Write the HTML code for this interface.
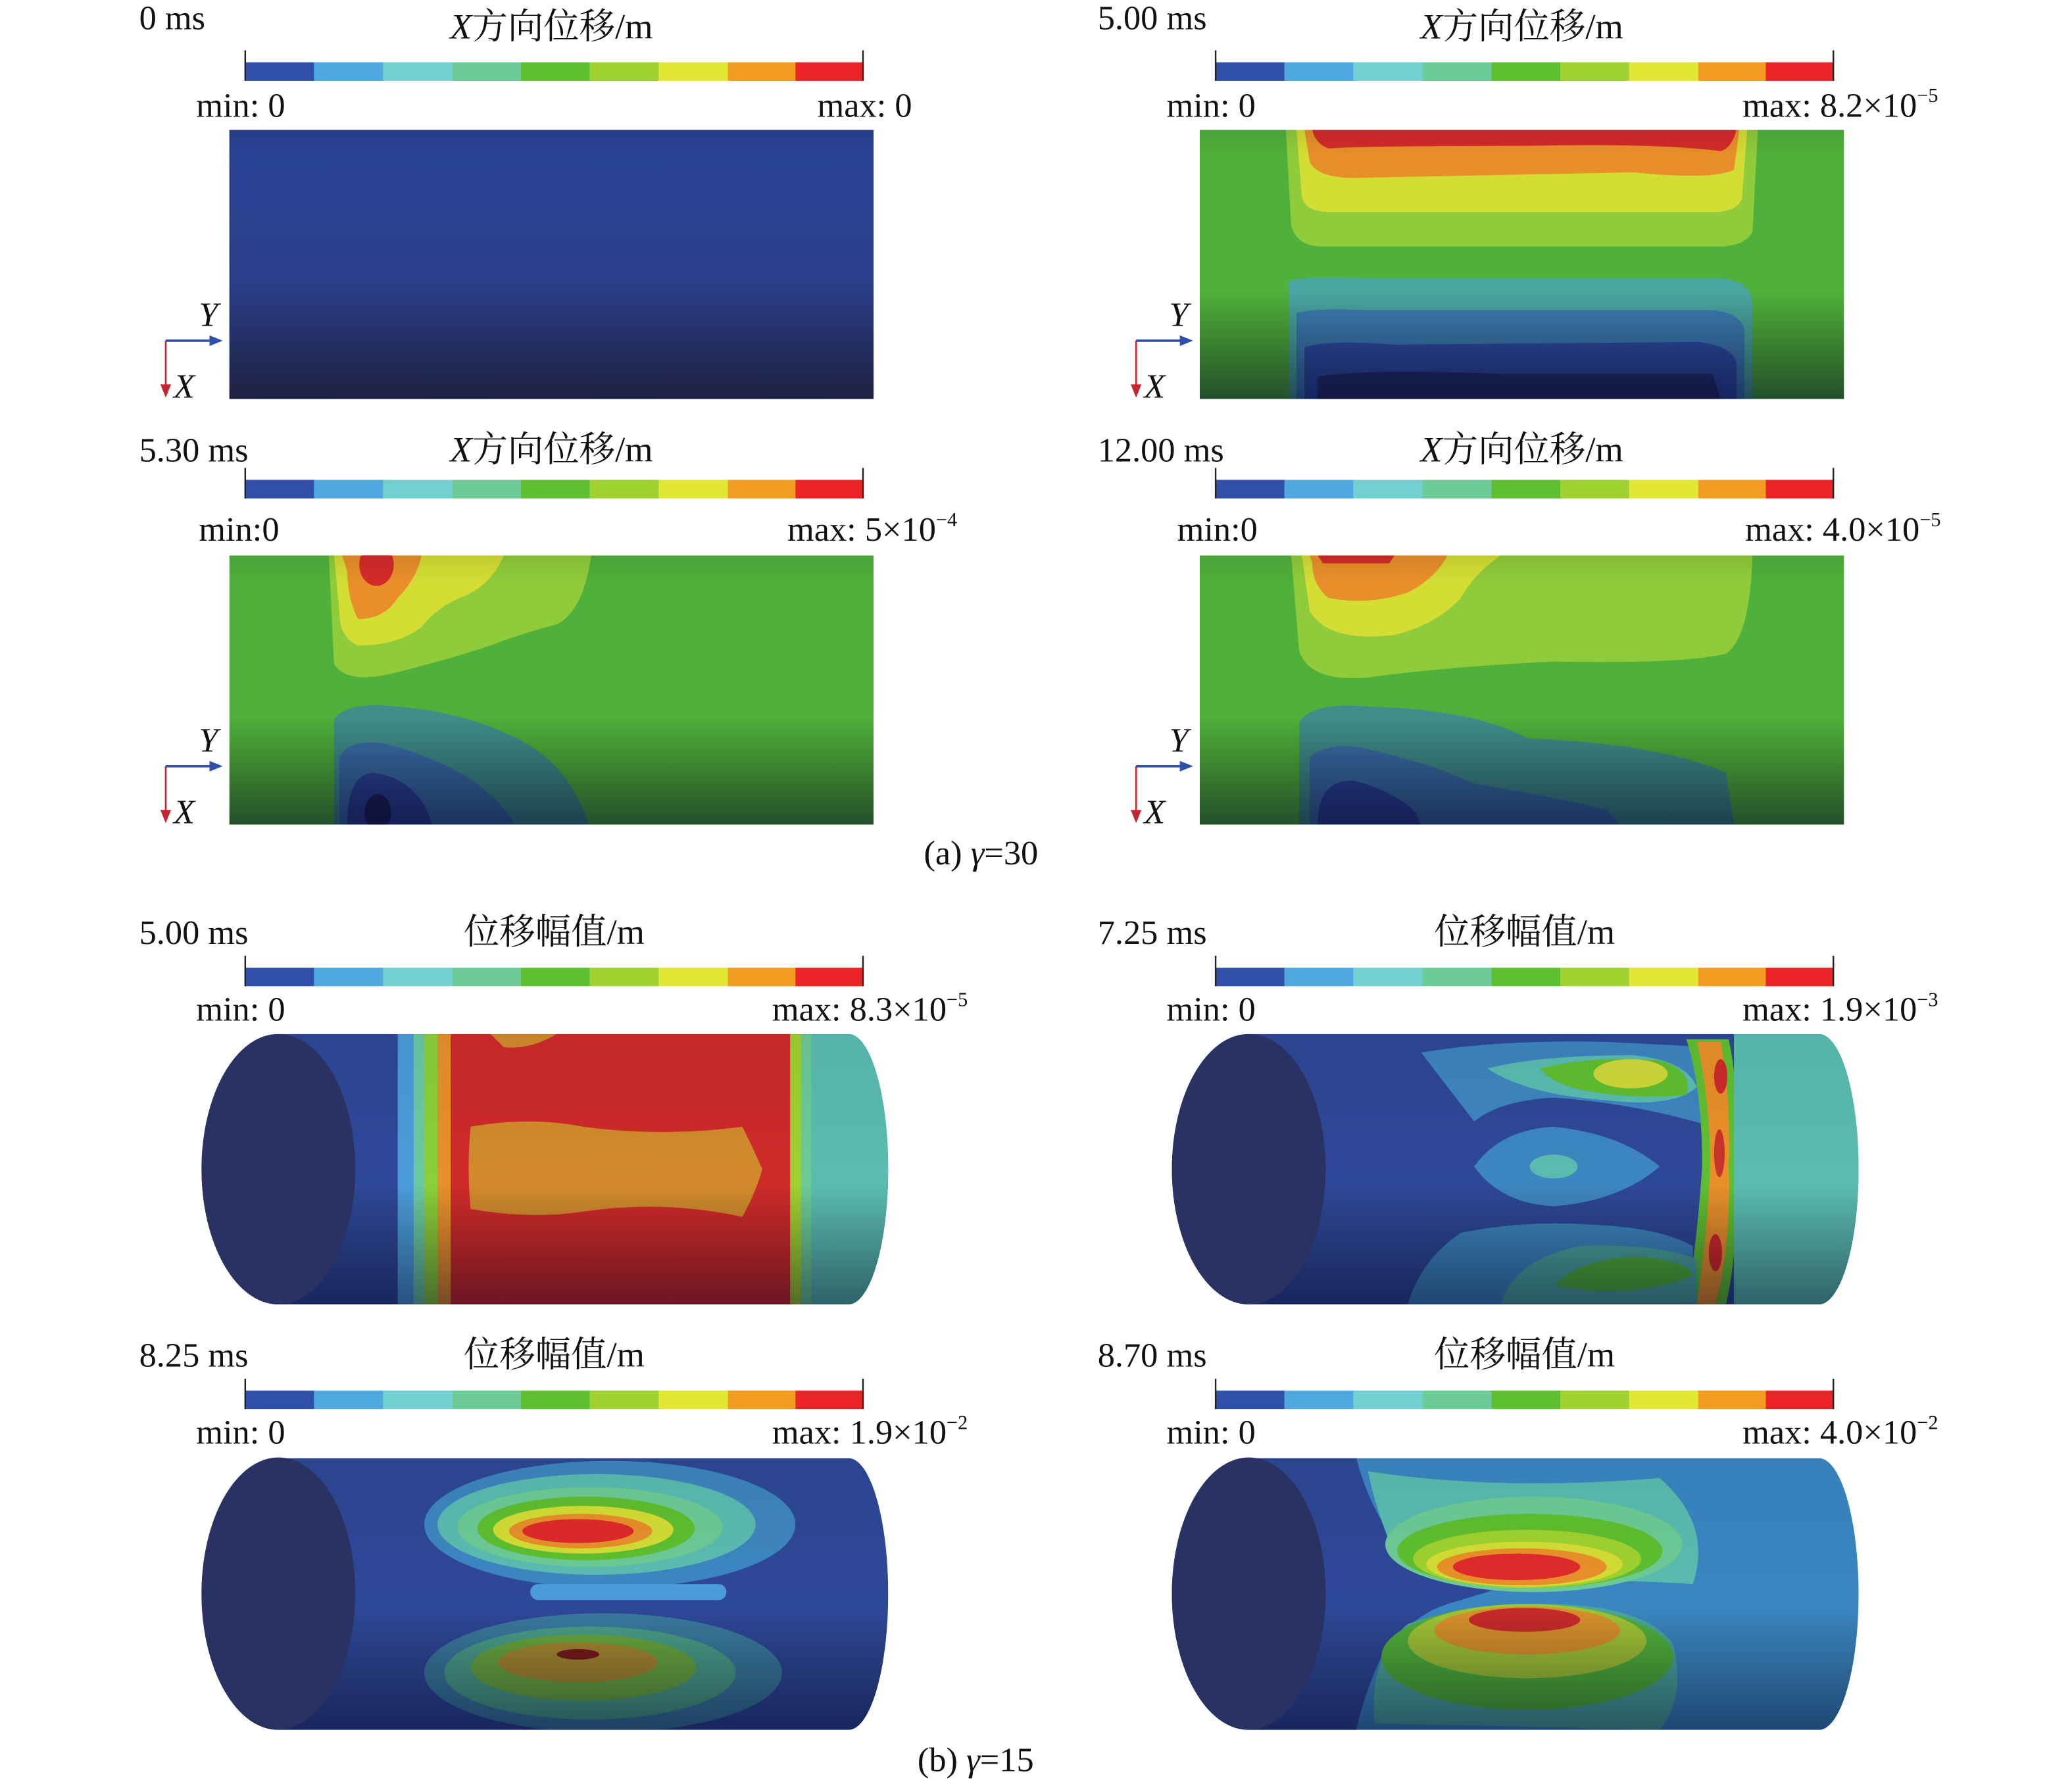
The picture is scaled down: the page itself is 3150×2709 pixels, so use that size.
<!DOCTYPE html>
<html><head><meta charset="utf-8"><style>
html,body{margin:0;padding:0;background:#fff}
svg{display:block}
text{font-family:"Liberation Serif","Noto Serif CJK SC",serif;fill:#111}
</style></head><body>
<svg width="3150" height="2709" viewBox="0 0 1563 1344.3" preserveAspectRatio="none" xmlns="http://www.w3.org/2000/svg">
<defs>
<linearGradient id="shadeA" x1="0" y1="0" x2="0" y2="1">
<stop offset="0" stop-color="#000" stop-opacity="0.08"/><stop offset="0.1" stop-color="#000" stop-opacity="0"/>
<stop offset="0.6" stop-color="#000" stop-opacity="0"/><stop offset="1" stop-color="#000020" stop-opacity="0.55"/></linearGradient>
<linearGradient id="shadeB" x1="0" y1="0" x2="0" y2="1">
<stop offset="0" stop-color="#000" stop-opacity="0.05"/><stop offset="0.55" stop-color="#000" stop-opacity="0"/>
<stop offset="1" stop-color="#000020" stop-opacity="0.5"/></linearGradient>
<linearGradient id="blueA" x1="0" y1="0" x2="0" y2="1">
<stop offset="0" stop-color="#263d8a"/><stop offset="0.1" stop-color="#2a4494"/><stop offset="0.55" stop-color="#2a3f8c"/><stop offset="1" stop-color="#1e2142"/></linearGradient>
<g id="bar">
<rect x="185" y="47" width="52" height="14" fill="#2f4fa8"/>
<rect x="237" y="47" width="52" height="14" fill="#4fa8e0"/>
<rect x="289" y="47" width="52" height="14" fill="#74d0d0"/>
<rect x="341" y="47" width="52" height="14" fill="#6ccb96"/>
<rect x="393" y="47" width="52" height="14" fill="#5fbf30"/>
<rect x="445" y="47" width="52" height="14" fill="#9fd22f"/>
<rect x="497" y="47" width="52" height="14" fill="#e2e832"/>
<rect x="549" y="47" width="51" height="14" fill="#f39c22"/>
<rect x="600" y="47" width="51" height="14" fill="#ec2227"/>
<line x1="185" y1="38" x2="185" y2="61" stroke="#222" stroke-width="1.2"/>
<line x1="651" y1="38" x2="651" y2="61" stroke="#222" stroke-width="1.2"/>
</g>
<g id="axes">
<line x1="125" y1="257" x2="125" y2="292" stroke="#c2272d" stroke-width="1.3"/>
<polygon points="121,290 129,290 125,300" fill="#c2272d"/>
<line x1="125" y1="257" x2="160" y2="257" stroke="#2f4fa8" stroke-width="1.8"/>
<polygon points="158,253 158,261 168,257" fill="#2f4fa8"/>
<text x="150" y="246" font-size="26" font-style="italic">Y</text>
<text x="131" y="300" font-size="26" font-style="italic">X</text>
</g>
<clipPath id="r1"><rect x="173" y="98" width="486" height="203"/></clipPath>
<clipPath id="c1"><path d="M210,780 L640,780 A30,102 0 0 1 640,984 L210,984 A58,102 0 0 1 210,780Z"/></clipPath>
<clipPath id="c2"><path d="M210,1100 L640,1100 A30,102.5 0 0 1 640,1305 L210,1305 A58,102.5 0 0 1 210,1100Z"/></clipPath>
</defs>

<!-- ===== (a) row 1 left ===== -->
<text x="105" y="22" font-size="26">0 ms</text>
<text x="416" y="29" font-size="27" text-anchor="middle"><tspan font-style="italic">X</tspan>方向位移/m</text>
<use href="#bar"/>
<text x="148" y="88" font-size="26">min: 0</text>
<text x="688" y="88" font-size="26" text-anchor="end">max: 0</text>
<rect x="173" y="98" width="486" height="203" fill="url(#blueA)"/>
<use href="#axes"/>

<!-- ===== (a) row 1 right ===== -->
<g transform="translate(732,0)">
<text x="96" y="22" font-size="26">5.00 ms</text>
<text x="416" y="29" font-size="27" text-anchor="middle"><tspan font-style="italic">X</tspan>方向位移/m</text>
<use href="#bar"/>
<text x="148" y="88" font-size="26">min: 0</text>
<text x="730" y="88" font-size="26" text-anchor="end">max: 8.2×10<tspan font-size="15" dy="-11">−5</tspan></text>
<g clip-path="url(#r1)">
<rect x="173" y="98" width="486" height="203" fill="#4fb03a"/>
<path d="M238,98 L594,98 L590,175 Q584,186 564,186 L266,186 Q246,186 242,170Z" fill="#8fcb3a"/>
<path d="M246,98 L586,98 L582,150 Q578,160 560,160 L272,160 Q252,160 250,148Z" fill="#d4dd34"/>
<path d="M252,98 L580,98 L576,128 Q560,136 500,130 L300,134 Q262,136 256,122Z" fill="#e88f2a"/>
<path d="M258,98 L578,98 Q574,112 566,114 Q520,108 420,110 Q300,110 270,112 Q260,108 258,98Z" fill="#d42a2a"/>
<path d="M240,212 Q250,208 300,210 L560,210 Q590,210 590,230 L590,301 L240,301Z" fill="#4aa6a0"/>
<path d="M246,236 Q260,232 300,234 L560,234 Q582,236 584,250 L584,301 L246,301Z" fill="#3d7eb4"/>
<path d="M252,262 Q270,256 320,260 L550,258 Q578,262 578,276 L578,301 L252,301Z" fill="#2f4fa8"/>
<path d="M262,284 Q300,278 400,282 L560,282 L566,301 L262,301Z" fill="#27326e"/>
<rect x="173" y="98" width="486" height="203" fill="url(#shadeA)"/>
</g>
<use href="#axes"/>
</g>

<!-- ===== (a) row 2 left ===== -->
<g transform="translate(0,321)">
<text x="105" y="27" font-size="26">5.30 ms</text>
<text x="416" y="27" font-size="27" text-anchor="middle"><tspan font-style="italic">X</tspan>方向位移/m</text>
<g transform="translate(0,-6)"><use href="#bar"/></g>
<text x="150" y="87" font-size="26">min:0</text>
<text x="722" y="87" font-size="26" text-anchor="end">max: 5×10<tspan font-size="15" dy="-11">−4</tspan></text>
<g clip-path="url(#r1)">
<rect x="173" y="98" width="486" height="203" fill="#4fb03a"/>
<path d="M248,98 L446,98 Q440,140 420,150 Q390,158 370,166 Q340,176 300,186 Q262,196 252,180Z" fill="#8fcb3a"/>
<path d="M252,98 L380,98 Q372,118 352,128 Q330,136 318,152 Q300,166 270,166 Q256,160 256,140Z" fill="#d4dd34"/>
<path d="M258,98 L318,98 Q314,116 300,130 Q290,146 270,146 Q262,130 262,110Z" fill="#e88f2a"/>
<ellipse cx="284" cy="105" rx="13" ry="16" fill="#d42a2a"/>
<path d="M252,301 L252,222 Q260,208 300,212 Q350,216 390,236 Q430,256 444,301Z" fill="#3f8e8a"/>
<path d="M256,301 L256,250 Q264,236 290,240 Q330,250 360,270 Q382,288 388,301Z" fill="#3a6ea8"/>
<path d="M262,301 Q262,262 282,262 Q310,266 322,290 L326,301Z" fill="#2c4496"/>
<ellipse cx="285" cy="292" rx="10" ry="14" fill="#1e2458"/>
<rect x="173" y="98" width="486" height="203" fill="url(#shadeA)"/>
</g>
<use href="#axes"/>
</g>

<!-- ===== (a) row 2 right ===== -->
<g transform="translate(732,321)">
<text x="96" y="27" font-size="26">12.00 ms</text>
<text x="416" y="27" font-size="27" text-anchor="middle"><tspan font-style="italic">X</tspan>方向位移/m</text>
<g transform="translate(0,-6)"><use href="#bar"/></g>
<text x="156" y="87" font-size="26">min:0</text>
<text x="732" y="87" font-size="26" text-anchor="end">max: 4.0×10<tspan font-size="15" dy="-11">−5</tspan></text>
<g clip-path="url(#r1)">
<rect x="173" y="98" width="486" height="203" fill="#4fb03a"/>
<path d="M242,98 L590,98 Q588,160 570,172 Q540,180 440,178 Q360,182 300,190 Q256,194 248,170Z" fill="#8fcb3a"/>
<path d="M250,98 L400,98 Q380,112 370,130 Q352,150 320,158 Q270,164 256,140Z" fill="#d4dd34"/>
<path d="M256,98 L360,98 Q350,116 330,126 Q300,136 270,130 Q258,120 258,104Z" fill="#e88f2a"/>
<path d="M262,98 L320,98 L316,104 L266,104Z" fill="#d42a2a"/>
<path d="M248,301 L248,224 Q258,208 300,212 Q380,214 420,236 Q520,240 570,262 L576,301Z" fill="#3f8e8a"/>
<path d="M256,301 L256,250 Q270,238 300,244 Q350,256 380,270 Q440,280 480,290 L490,301Z" fill="#3a6ea8"/>
<path d="M262,301 Q262,266 290,268 Q320,276 336,292 L340,301Z" fill="#2c4496"/>
<rect x="173" y="98" width="486" height="203" fill="url(#shadeA)"/>
</g>
<use href="#axes"/>
</g>
<text x="740" y="652" font-size="26" text-anchor="middle">(a) <tspan font-style="italic">γ</tspan>=30</text>

<!-- ===== (b) row 1 left ===== -->
<g transform="translate(0,683)">
<text x="105" y="29" font-size="26">5.00 ms</text>
<text x="418" y="29" font-size="27" text-anchor="middle">位移幅值/m</text>
<use href="#bar"/>
<text x="148" y="87" font-size="26">min: 0</text>
<text x="730" y="87" font-size="26" text-anchor="end">max: 8.3×10<tspan font-size="15" dy="-11">−5</tspan></text>
</g>
<g clip-path="url(#c1)">
<rect x="150" y="778" width="530" height="210" fill="#2e4898"/>
<rect x="300" y="778" width="20" height="210" fill="#4a9cd8"/>
<rect x="312" y="778" width="16" height="210" fill="#6cc8a0"/>
<rect x="320" y="778" width="16" height="210" fill="#8ccf3a"/>
<rect x="330" y="778" width="280" height="210" fill="#e8902a"/>
<rect x="340" y="778" width="260" height="210" fill="#cf2a2a"/>
<path d="M355,850 Q400,842 440,850 Q500,858 560,850 Q570,870 575,882 Q570,900 560,918 Q500,905 440,914 Q400,920 355,912 Q352,880 355,850Z" fill="#d28a2c"/>
<path d="M370,780 L420,780 Q400,792 380,790Z" fill="#d28a2c"/>
<rect x="596" y="778" width="14" height="210" fill="#9fd22f"/>
<rect x="604" y="778" width="10" height="210" fill="#6ccb96"/>
<rect x="612" y="778" width="70" height="210" fill="#5abcb0"/>
<rect x="150" y="778" width="530" height="210" fill="url(#shadeB)"/>
</g>
<ellipse cx="210" cy="882" rx="58" ry="102" fill="#2a3163"/>

<!-- ===== (b) row 1 right ===== -->
<g transform="translate(732,683)">
<text x="96" y="29" font-size="26">7.25 ms</text>
<text x="418" y="29" font-size="27" text-anchor="middle">位移幅值/m</text>
<use href="#bar"/>
<text x="148" y="87" font-size="26">min: 0</text>
<text x="730" y="87" font-size="26" text-anchor="end">max: 1.9×10<tspan font-size="15" dy="-11">−3</tspan></text>
</g>
<g transform="translate(732,0)">
<g clip-path="url(#c1)">
<rect x="150" y="778" width="530" height="210" fill="#2e4898"/>
<path d="M340,794 Q400,784 480,786 L560,790 L560,850 Q500,832 440,828 Q400,830 380,846 Q360,820 340,794Z" fill="#3d86c0"/>
<path d="M390,806 Q430,796 500,796 Q540,800 548,820 Q530,836 480,830 Q420,826 390,806Z" fill="#5abcb0"/>
<path d="M430,806 Q470,796 520,800 Q546,808 540,826 Q500,830 460,822 Q436,816 430,806Z" fill="#5fbf30"/>
<ellipse cx="498" cy="810" rx="28" ry="11" fill="#cfd83a"/>
<path d="M540,784 L572,784 Q580,820 578,880 Q580,940 570,984 L540,984 Q548,940 552,880 Q552,820 540,784Z" fill="#5fbf30"/>
<path d="M548,786 L566,786 Q574,830 572,880 Q574,940 562,984 L548,984 Q556,930 558,880 Q558,830 548,786Z" fill="#e8902a"/>
<ellipse cx="566" cy="812" rx="5" ry="13" fill="#cf2a2a"/>
<ellipse cx="565" cy="870" rx="4" ry="18" fill="#c8342a"/>
<ellipse cx="562" cy="945" rx="5" ry="14" fill="#cf2a2a"/>
<rect x="576" y="778" width="110" height="210" fill="#5abcb0"/>
<path d="M380,880 Q400,852 440,850 Q490,855 520,880 Q490,906 440,910 Q400,908 380,880Z" fill="#3d86c0"/>
<ellipse cx="440" cy="880" rx="18" ry="9" fill="#5abcb0"/>
<path d="M330,984 Q340,950 370,930 Q420,920 470,924 Q520,926 545,940 L545,984Z" fill="#3d86c0"/>
<path d="M400,984 Q410,950 460,940 Q520,938 548,950 L548,984Z" fill="#4aa6a0"/>
<path d="M440,970 Q460,950 500,948 Q540,950 545,962 Q520,975 470,974Z" fill="#4fb03a"/>
<rect x="150" y="778" width="530" height="210" fill="url(#shadeB)"/>
</g>
<ellipse cx="210" cy="882" rx="58" ry="102" fill="#2a3163"/>
</g>

<!-- ===== (b) row 2 left ===== -->
<g transform="translate(0,1002)">
<text x="105" y="29" font-size="26">8.25 ms</text>
<text x="418" y="29" font-size="27" text-anchor="middle">位移幅值/m</text>
<use href="#bar"/>
<text x="148" y="87" font-size="26">min: 0</text>
<text x="730" y="87" font-size="26" text-anchor="end">max: 1.9×10<tspan font-size="15" dy="-11">−2</tspan></text>
</g>
<g clip-path="url(#c2)">
<rect x="150" y="1095" width="530" height="215" fill="#2e4898"/>
<ellipse cx="460" cy="1150" rx="140" ry="48" fill="#3d86c0"/>
<ellipse cx="450" cy="1150" rx="120" ry="38" fill="#5abcb0"/>
<ellipse cx="445" cy="1152" rx="100" ry="30" fill="#6ccb96"/>
<ellipse cx="442" cy="1153" rx="82" ry="24" fill="#5fbf30"/>
<ellipse cx="440" cy="1154" rx="68" ry="18" fill="#d4dd34"/>
<ellipse cx="438" cy="1155" rx="54" ry="13" fill="#e8902a"/>
<ellipse cx="436" cy="1155" rx="42" ry="9" fill="#e02a2a"/>
<rect x="400" y="1195" width="148" height="12" rx="6" fill="#4a9cd8"/>
<ellipse cx="455" cy="1262" rx="135" ry="45" fill="#3a7aa0"/>
<ellipse cx="445" cy="1262" rx="110" ry="35" fill="#4aa08a"/>
<ellipse cx="440" cy="1258" rx="85" ry="25" fill="#6aaa40"/>
<ellipse cx="436" cy="1254" rx="60" ry="15" fill="#a88a30"/>
<ellipse cx="436" cy="1248" rx="16" ry="4" fill="#7a1a1a"/>
<rect x="150" y="1095" width="530" height="215" fill="url(#shadeB)"/>
</g>
<ellipse cx="210" cy="1202" rx="58" ry="102.5" fill="#2a3163"/>

<!-- ===== (b) row 2 right ===== -->
<g transform="translate(732,1002)">
<text x="96" y="29" font-size="26">8.70 ms</text>
<text x="418" y="29" font-size="27" text-anchor="middle">位移幅值/m</text>
<use href="#bar"/>
<text x="148" y="87" font-size="26">min: 0</text>
<text x="730" y="87" font-size="26" text-anchor="end">max: 4.0×10<tspan font-size="15" dy="-11">−2</tspan></text>
</g>
<g transform="translate(732,0)">
<g clip-path="url(#c2)">
<rect x="150" y="1095" width="530" height="215" fill="#3a86c2"/>
<path d="M150,1095 L290,1095 Q300,1140 330,1175 Q360,1196 400,1198 L360,1210 Q330,1220 310,1250 Q296,1280 290,1310 L150,1310Z" fill="#2e4898"/>
<path d="M300,1110 Q400,1125 520,1115 Q560,1150 545,1195 Q470,1190 400,1196 Q340,1190 315,1160 Q305,1135 300,1110Z" fill="#5abcb0"/>
<ellipse cx="425" cy="1165" rx="112" ry="36" fill="#6ccb96"/>
<ellipse cx="422" cy="1170" rx="100" ry="28" fill="#5fbf30"/>
<ellipse cx="420" cy="1176" rx="86" ry="22" fill="#9fd22f"/>
<ellipse cx="418" cy="1180" rx="74" ry="17" fill="#d4dd34"/>
<ellipse cx="416" cy="1182" rx="64" ry="14" fill="#e8902a"/>
<ellipse cx="412" cy="1182" rx="48" ry="10" fill="#e02a2a"/>
<path d="M305,1300 Q300,1250 330,1225 Q380,1208 440,1210 Q510,1212 530,1240 Q540,1280 520,1305Z" fill="#4aa6a0"/>
<ellipse cx="420" cy="1250" rx="110" ry="40" fill="#4fb03a"/>
<ellipse cx="420" cy="1238" rx="90" ry="28" fill="#9fc436"/>
<ellipse cx="420" cy="1230" rx="70" ry="18" fill="#d8902c"/>
<ellipse cx="418" cy="1222" rx="42" ry="9" fill="#c82a2a"/>
<rect x="150" y="1095" width="530" height="215" fill="url(#shadeB)"/>
</g>
<ellipse cx="210" cy="1202" rx="58" ry="102.5" fill="#2a3163"/>
</g>
<text x="736" y="1336" font-size="26" text-anchor="middle">(b) <tspan font-style="italic">γ</tspan>=15</text>
</svg>
</body></html>
